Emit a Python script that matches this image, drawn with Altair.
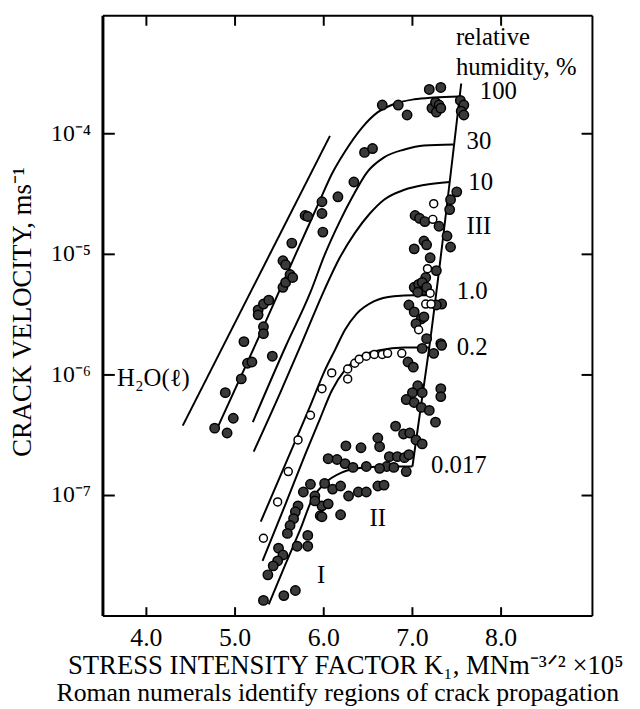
import altair as alt
import pandas as pd

FONT = "Liberation Serif"

# ---------------- values ----------------
# K (MN m^-3/2 x 10^5) and crack velocity v (m/s)
h2o_k = [4.41, 6.07]
h2o_v = [3.8e-7, 9.6e-5]

rh100_k = [4.81, 5.26, 5.68, 5.94, 6.09, 6.24, 6.43, 6.61, 6.79, 7.02, 7.24, 7.53]
rh100_v = [3.76e-7, 2.00e-6, 9.9e-6, 2.63e-5, 4.62e-5, 7.13e-5, 1.12e-4, 1.51e-4,
           1.76e-4, 1.93e-4, 2.00e-4, 2.04e-4]

rh30_k = [5.20, 5.57, 5.85, 6.01, 6.18, 6.33, 6.49, 6.68, 6.91, 7.13, 7.46]
rh30_v = [4.06e-7, 1.72e-6, 4.85e-6, 9.9e-6, 1.87e-5, 3.06e-5, 4.81e-5, 6.37e-5,
          7.40e-5, 7.98e-5, 8.13e-5]

rh10_k = [5.21, 5.51, 5.76, 6.01, 6.18, 6.35, 6.52, 6.68, 6.91, 7.13, 7.42]
rh10_v = [2.31e-7, 7.13e-7, 1.90e-6, 5.13e-6, 9.36e-6, 1.50e-5, 2.18e-5, 2.84e-5,
          3.43e-5, 3.76e-5, 3.98e-5]

rh1_k = [5.29, 5.57, 5.85, 6.01, 6.13, 6.24, 6.37, 6.57, 6.79, 7.02, 7.24]
rh1_v = [6.08e-8, 1.84e-7, 5.58e-7, 1.08e-6, 1.63e-6, 2.37e-6, 3.21e-6, 4.09e-6,
         4.50e-6, 4.58e-6, 4.58e-6]

rh02_k = [5.31, 5.57, 5.79, 5.96, 6.09, 6.24, 6.40, 6.63, 6.91, 7.19]
rh02_v = [2.87e-8, 8.53e-8, 2.18e-7, 4.37e-7, 7.40e-7, 1.10e-6, 1.40e-6, 1.60e-6,
          1.69e-6, 1.69e-6]

rh0017_k = [5.38, 5.57, 5.74, 5.87, 6.01, 6.20, 6.46, 6.72, 7.00]
rh0017_v = [1.25e-8, 2.71e-8, 5.33e-8, 9.36e-8, 1.26e-7, 1.55e-7, 1.71e-7, 1.74e-7, 1.74e-7]

region3_k = [7.00, 7.19, 7.55]
region3_v = [1.74e-7, 1.69e-6, 2.61e-4]

filled_k = [4.77, 4.91, 4.98, 4.89, 5.07, 5.14, 5.19, 5.10, 5.42, 5.32, 5.32, 5.26, 5.26,
            5.32, 5.38, 5.54, 5.57, 5.62, 5.65, 5.54, 5.57, 5.64, 5.79, 5.82, 5.98, 5.99,
            5.98, 6.16, 6.34, 6.46, 6.55, 6.66, 6.84, 6.94, 7.19, 7.32, 7.22, 7.26, 7.30,
            7.27, 7.32, 7.54, 7.58, 7.55, 7.58,
            7.50, 7.43, 7.42, 7.03, 7.08, 7.14, 7.30, 7.39, 7.43, 7.13, 7.16, 7.02, 7.20,
            7.27, 7.15, 7.02, 7.07, 7.13, 7.06, 7.11, 7.16, 7.33, 7.27, 6.96, 7.02, 7.10,
            7.13, 7.04, 7.16, 7.32, 7.11, 7.24, 7.33,
            6.95, 7.01, 7.32, 7.32, 7.06, 7.00, 6.93, 7.02, 7.11, 7.10, 7.19, 7.26, 6.81,
            6.90, 6.97, 7.04, 7.11, 6.61, 6.63, 6.25, 6.42, 6.74, 6.71, 6.79, 6.83, 6.91,
            6.96, 6.93, 6.05, 6.15, 6.24, 6.33, 6.48, 6.63, 6.01, 6.10, 6.19, 6.28, 6.39,
            6.48, 6.61, 6.68, 5.90, 5.98, 6.05, 5.96, 6.19, 5.85, 5.77, 5.90, 5.71, 5.68,
            5.66, 5.62, 5.59, 5.98, 5.82, 5.82, 5.70, 5.49, 5.54, 5.48, 5.43, 5.37, 5.32,
            5.55, 5.68]
filled_v = [3.62e-7, 3.30e-7, 4.37e-7, 7.13e-7, 9.27e-7, 1.25e-6, 1.28e-6, 1.89e-6, 1.43e-6,
            2.51e-6, 2.20e-6, 3.46e-6, 3.15e-6, 3.87e-6, 4.17e-6, 5.33e-6, 5.85e-6, 6.80e-6,
            6.43e-6, 8.85e-6, 8.20e-6, 1.24e-5, 2.10e-5, 2.06e-5, 2.18e-5, 1.53e-5, 2.73e-5,
            3.00e-5, 3.98e-5, 7.00e-5, 7.54e-5, 1.73e-4, 1.73e-4, 1.43e-4, 2.33e-4, 2.42e-4,
            1.63e-4, 1.82e-4, 1.73e-4, 1.51e-4, 1.63e-4, 1.89e-4, 1.73e-4, 1.54e-4, 1.43e-4,
            3.30e-5, 2.84e-5, 2.35e-5, 2.10e-5, 1.99e-5, 1.87e-5, 1.71e-5, 1.42e-5, 1.15e-5,
            1.29e-5, 1.20e-5, 1.11e-5, 9.36e-6, 7.33e-6, 6.43e-6, 5.33e-6, 5.64e-6, 5.04e-6,
            4.85e-6, 5.85e-6, 5.33e-6, 3.87e-6, 3.80e-6, 3.80e-6, 3.33e-6, 2.92e-6, 3.03e-6,
            2.66e-6, 2.00e-6, 1.82e-6, 1.66e-6, 1.51e-6, 1.76e-6,
            1.28e-6, 1.16e-6, 7.69e-7, 6.61e-7, 8.13e-7, 7.13e-7, 6.25e-7, 5.91e-7, 7.13e-7,
            5.38e-7, 5.08e-7, 4.06e-7, 3.76e-7, 3.24e-7, 3.30e-7, 2.89e-7, 2.68e-7, 3.00e-7,
            2.54e-7, 2.58e-7, 2.49e-7, 2.10e-7, 1.74e-7, 1.71e-7, 2.10e-7, 2.06e-7, 2.18e-7,
            1.58e-7, 2.02e-7, 1.99e-7, 1.84e-7, 1.71e-7, 1.74e-7, 1.68e-7, 1.26e-7, 1.13e-7,
            1.20e-7, 9.91e-8, 1.07e-7, 1.07e-7, 1.20e-7, 1.22e-7, 9.91e-8, 8.21e-8, 8.53e-8,
            6.80e-8, 6.93e-8, 1.24e-7, 1.07e-7, 9.02e-8, 8.21e-8, 7.33e-8, 6.43e-8, 5.64e-8,
            4.85e-8, 6.67e-8, 4.67e-8, 3.80e-8, 3.80e-8, 3.66e-8, 3.21e-8, 2.87e-8, 2.61e-8,
            2.20e-8, 1.35e-8, 1.48e-8, 1.63e-8]

open_k = [5.32, 5.48, 5.60, 5.71, 5.85, 5.98, 6.09, 6.27, 6.27, 6.35, 6.40, 6.48, 6.57,
          6.66, 6.72, 6.88, 7.24, 7.23, 7.17, 7.20, 7.15, 7.21, 7.07]
open_v = [4.42e-8, 8.85e-8, 1.58e-7, 2.89e-7, 4.63e-7, 7.69e-7, 1.04e-6, 1.12e-6, 9.27e-7,
          1.25e-6, 1.35e-6, 1.43e-6, 1.48e-6, 1.48e-6, 1.51e-6, 1.51e-6, 2.63e-5, 1.95e-5,
          7.61e-6, 4.76e-6, 3.87e-6, 3.87e-6, 2.37e-6]

lab_text = ["relative", "humidity, %", "100", "30", "10", "III", "1.0", "0.2", "0.017", "H₂O(ℓ)"]
lab_k = [7.49, 7.49, 7.76, 7.61, 7.63, 7.61, 7.50, 7.50, 7.21, 3.67]
lab_v = [5.85e-4, 3.33e-4, 2.08e-4, 8.13e-5, 3.69e-5, 1.58e-5, 4.58e-6, 1.57e-6, 1.65e-7, 8.77e-7]

region_text = ["II", "I"]
region_k = [6.61, 5.97]
region_v = [6.19e-8, 2.08e-8]

x_ticks = [4.0, 5.0, 6.0, 7.0, 8.0]
x_tick_labels = ["4.0", "5.0", "6.0", "7.0", "8.0"]
y_ticks = [1e-4, 1e-5, 1e-6, 1e-7]
y_tick_labels = ["10⁻⁴", "10⁻⁵", "10⁻⁶", "10⁻⁷"]

x_title = "STRESS INTENSITY FACTOR K₁, MNm⁻³ᐟ² ×10⁵"
y_title = "CRACK VELOCITY, ms⁻¹"
note = "Roman numerals identify regions of crack propagation"

# ---------------- tables ----------------
curves = {
    "H2O": (h2o_k, h2o_v), "100": (rh100_k, rh100_v), "30": (rh30_k, rh30_v),
    "10": (rh10_k, rh10_v), "1.0": (rh1_k, rh1_v), "0.2": (rh02_k, rh02_v),
    "0.017": (rh0017_k, rh0017_v), "III": (region3_k, region3_v),
}
rows = []
for name, (ks, vs) in curves.items():
    for i, (k, v) in enumerate(zip(ks, vs)):
        rows.append({"curve": name, "i": i, "K": k, "v": v})
curves_df = pd.DataFrame(rows)
filled_df = pd.DataFrame({"K": filled_k, "v": filled_v})
open_df = pd.DataFrame({"K": open_k, "v": open_v})
lab_df = pd.DataFrame({"K": lab_k, "v": lab_v, "t": lab_text})
reg_df = pd.DataFrame({"K": region_k, "v": region_v, "t": region_text})
xt_df = pd.DataFrame({"t": x_ticks, "lab": x_tick_labels})
yt_df = pd.DataFrame({"t": y_ticks, "lab": y_tick_labels})
one_df = pd.DataFrame({"a": [0]})

W, H = 495, 607
xs = alt.Scale(domain=[3.51, 9.03], nice=False, zero=False)
ys = alt.Scale(type="log", domain=[1e-8, 9.5e-4], nice=False)
X = lambda f: alt.X(f, scale=xs, axis=None)
Y = lambda f: alt.Y(f, scale=ys, axis=None)

lines = alt.Chart(curves_df).mark_line(color="black", strokeWidth=2,
                                       interpolate="monotone").encode(
    x=X("K:Q"), y=Y("v:Q"), detail="curve:N", order="i:Q")

filled = alt.Chart(filled_df).mark_circle(size=90, color="#3a3a3a", stroke="black",
                                          strokeWidth=1.5, opacity=1).encode(
    x=X("K:Q"), y=Y("v:Q"))

opens = alt.Chart(open_df).mark_circle(size=65, color="white", stroke="black",
                                       strokeWidth=1.5, opacity=1).encode(
    x=X("K:Q"), y=Y("v:Q"))

labels = alt.Chart(lab_df).mark_text(font=FONT, fontSize=25, align="left",
                                     baseline="middle", color="black", dy=-4).encode(
    x=X("K:Q"), y=Y("v:Q"), text="t:N")

regions = alt.Chart(reg_df).mark_text(font=FONT, fontSize=25, align="center",
                                      baseline="middle", color="black", dy=-3).encode(
    x=X("K:Q"), y=Y("v:Q"), text="t:N")

# tick labels (drawn through the scales)
x_labels = alt.Chart(xt_df).mark_text(font=FONT, fontSize=26, align="center",
                                      baseline="middle", color="black").encode(
    x=X("t:Q"), y=alt.value(H + 22), text="lab:N")
y_labels = alt.Chart(yt_df).mark_text(font=FONT, fontSize=24, align="right",
                                      baseline="middle", color="black").encode(
    y=Y("t:Q"), x=alt.value(-12), text="lab:N")

# axis titles
x_title_mark = alt.Chart(one_df).mark_text(font=FONT, fontSize=27, align="center",
                                           baseline="middle", color="black",
                                           text=x_title).encode(
    x=alt.value(W / 2 - 2), y=alt.value(H + 51))
note_mark = alt.Chart(one_df).mark_text(font=FONT, fontSize=26, align="center",
                                        baseline="middle", color="black",
                                        text=note).encode(
    x=alt.value(W / 2 - 10), y=alt.value(H + 78))
y_title_mark = alt.Chart(one_df).mark_text(font=FONT, fontSize=27, align="center",
                                           baseline="middle", color="black", angle=270,
                                           text=y_title).encode(
    x=alt.value(-81), y=alt.value(H / 2 - 4))

# inward tick marks on all four sides
tick_rule = dict(color="black", strokeWidth=2)
ticks_bottom = alt.Chart(xt_df).mark_rule(**tick_rule).encode(
    x=X("t:Q"), y=alt.value(H), y2=alt.value(H - 9))
ticks_top = alt.Chart(xt_df).mark_rule(**tick_rule).encode(
    x=X("t:Q"), y=alt.value(0), y2=alt.value(10))
ticks_left = alt.Chart(yt_df).mark_rule(**tick_rule).encode(
    y=Y("t:Q"), x=alt.value(0), x2=alt.value(12))
ticks_right = alt.Chart(yt_df).mark_rule(**tick_rule).encode(
    y=Y("t:Q"), x=alt.value(W), x2=alt.value(W - 11))

# plot frame
frame_top = alt.Chart(one_df).mark_rule(color="black", strokeWidth=2).encode(
    x=alt.value(0), x2=alt.value(W), y=alt.value(0))
frame_bottom = alt.Chart(one_df).mark_rule(color="black", strokeWidth=2).encode(
    x=alt.value(0), x2=alt.value(W), y=alt.value(H))
frame_left = alt.Chart(one_df).mark_rule(color="black", strokeWidth=3).encode(
    x=alt.value(0), y=alt.value(0), y2=alt.value(H))
frame_right = alt.Chart(one_df).mark_rule(color="black", strokeWidth=2).encode(
    x=alt.value(W), y=alt.value(0), y2=alt.value(H))

chart = alt.layer(
    lines, filled, opens, labels, regions,
    x_labels, y_labels, x_title_mark, note_mark, y_title_mark,
    ticks_bottom, ticks_top, ticks_left, ticks_right,
    frame_top, frame_bottom, frame_left, frame_right,
).properties(
    width=W, height=H,
    autosize=alt.AutoSizeParams(type="none"),
    padding={"left": 96, "top": 4, "right": 40, "bottom": 90},
).configure(background="white").configure_view(stroke="transparent")

chart.save("out.html", embed_options={"renderer": "svg", "actions": False})
